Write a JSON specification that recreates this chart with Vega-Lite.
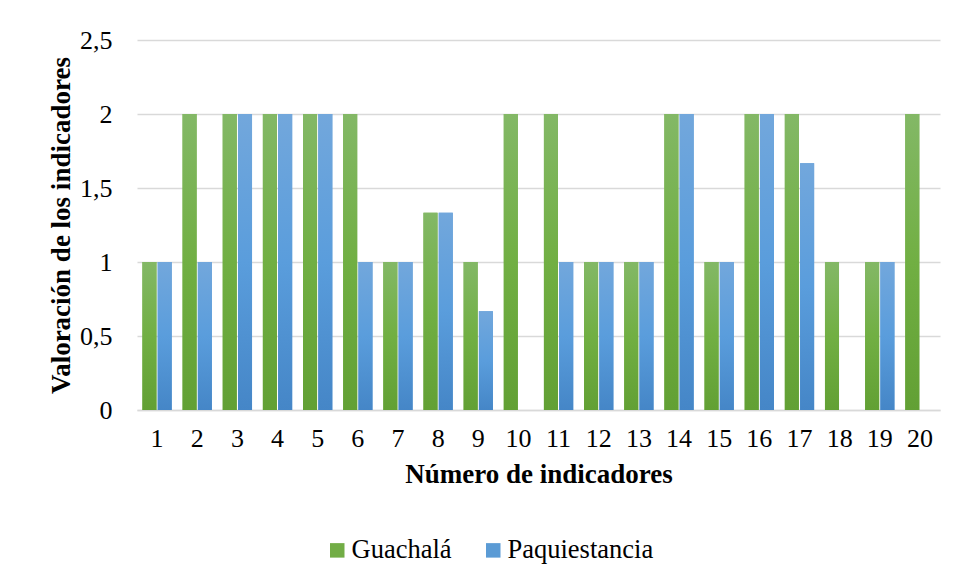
{
  "$schema": "https://vega.github.io/schema/vega-lite/v6.json",
  "width": 803,
  "height": 370,
  "autosize": {"type": "none"},
  "padding": {"left": 137, "top": 40, "right": 16, "bottom": 174},
  "background": "white",
  "config": {
    "view": {"stroke": null},
    "font": "Liberation Serif"
  },
  "data": {
    "values": [
      {"ind": 1, "series": "Guachalá", "v": 1}, {"ind": 1, "series": "Paquiestancia", "v": 1},
      {"ind": 2, "series": "Guachalá", "v": 2}, {"ind": 2, "series": "Paquiestancia", "v": 1},
      {"ind": 3, "series": "Guachalá", "v": 2}, {"ind": 3, "series": "Paquiestancia", "v": 2},
      {"ind": 4, "series": "Guachalá", "v": 2}, {"ind": 4, "series": "Paquiestancia", "v": 2},
      {"ind": 5, "series": "Guachalá", "v": 2}, {"ind": 5, "series": "Paquiestancia", "v": 2},
      {"ind": 6, "series": "Guachalá", "v": 2}, {"ind": 6, "series": "Paquiestancia", "v": 1},
      {"ind": 7, "series": "Guachalá", "v": 1}, {"ind": 7, "series": "Paquiestancia", "v": 1},
      {"ind": 8, "series": "Guachalá", "v": 1.333}, {"ind": 8, "series": "Paquiestancia", "v": 1.333},
      {"ind": 9, "series": "Guachalá", "v": 1}, {"ind": 9, "series": "Paquiestancia", "v": 0.667},
      {"ind": 10, "series": "Guachalá", "v": 2}, {"ind": 10, "series": "Paquiestancia", "v": 0},
      {"ind": 11, "series": "Guachalá", "v": 2}, {"ind": 11, "series": "Paquiestancia", "v": 1},
      {"ind": 12, "series": "Guachalá", "v": 1}, {"ind": 12, "series": "Paquiestancia", "v": 1},
      {"ind": 13, "series": "Guachalá", "v": 1}, {"ind": 13, "series": "Paquiestancia", "v": 1},
      {"ind": 14, "series": "Guachalá", "v": 2}, {"ind": 14, "series": "Paquiestancia", "v": 2},
      {"ind": 15, "series": "Guachalá", "v": 1}, {"ind": 15, "series": "Paquiestancia", "v": 1},
      {"ind": 16, "series": "Guachalá", "v": 2}, {"ind": 16, "series": "Paquiestancia", "v": 2},
      {"ind": 17, "series": "Guachalá", "v": 2}, {"ind": 17, "series": "Paquiestancia", "v": 1.667},
      {"ind": 18, "series": "Guachalá", "v": 1}, {"ind": 18, "series": "Paquiestancia", "v": 0},
      {"ind": 19, "series": "Guachalá", "v": 1}, {"ind": 19, "series": "Paquiestancia", "v": 1},
      {"ind": 20, "series": "Guachalá", "v": 2}, {"ind": 20, "series": "Paquiestancia", "v": 0}
    ]
  },
  "encoding": {
    "x": {
      "field": "ind", "type": "ordinal",
      "scale": {"paddingInner": 0.27, "paddingOuter": 0.135},
      "axis": {
        "title": "Número de indicadores", "titleFont": "Liberation Serif", "titleFontSize": 27, "titleFontWeight": "bold", "titlePadding": 10, "titleColor": "#000",
        "labelFont": "Liberation Serif", "labelFontSize": 26, "labelColor": "#000", "labelAngle": 0, "labelPadding": 15, "ticks": false,
        "domain": true, "domainColor": "#d9d9d9", "domainWidth": 1.5, "grid": false
      }
    },
    "xOffset": {"field": "series", "type": "nominal", "scale": {"paddingInner": 0.08}},
    "y": {
      "field": "v", "type": "quantitative",
      "scale": {"domain": [0, 2.5]},
      "axis": {
        "title": "Valoración de los indicadores", "titleFont": "Liberation Serif", "titleFontSize": 27, "titleFontWeight": "bold", "titlePadding": 4, "titleColor": "#000",
        "values": [0, 0.5, 1, 1.5, 2, 2.5], "labelExpr": "replace(format(datum.value, '~g'), '.', ',')",
        "labelFont": "Liberation Serif", "labelFontSize": 26, "labelColor": "#000", "labelPadding": 25, "ticks": false, "domain": false,
        "grid": true, "gridColor": "#d9d9d9", "gridWidth": 1.5
      }
    }
  },
  "layer": [
    {
      "mark": {"type": "bar"},
      "encoding": {
        "color": {
          "field": "series", "type": "nominal",
          "scale": {"domain": ["Guachalá", "Paquiestancia"], "range": ["#72ad46", "#5b9bd5"]},
          "legend": {
            "title": null, "orient": "none", "direction": "horizontal",
            "legendX": 187, "legendY": 497,
            "symbolType": "square", "symbolSize": 210, "symbolStrokeWidth": 0,
            "labelFont": "Liberation Serif", "labelFontSize": 26.5, "labelColor": "#000", "columnPadding": 28, "labelOffset": 1
          }
        }
      }
    },
    {
      "transform": [{"filter": "datum.series === 'Guachalá'"}],
      "mark": {
        "type": "bar",
        "color": {"gradient": "linear", "x1": 0, "y1": 0, "x2": 0, "y2": 1,
          "stops": [{"offset": 0, "color": "#83b866"}, {"offset": 0.5, "color": "#71af43"}, {"offset": 1, "color": "#62a034"}]}
      }
    },
    {
      "transform": [{"filter": "datum.series === 'Paquiestancia'"}],
      "mark": {
        "type": "bar",
        "color": {"gradient": "linear", "x1": 0, "y1": 0, "x2": 0, "y2": 1,
          "stops": [{"offset": 0, "color": "#72a7dc"}, {"offset": 0.5, "color": "#5a9ddc"}, {"offset": 1, "color": "#4586c7"}]}
      }
    }
  ]
}
